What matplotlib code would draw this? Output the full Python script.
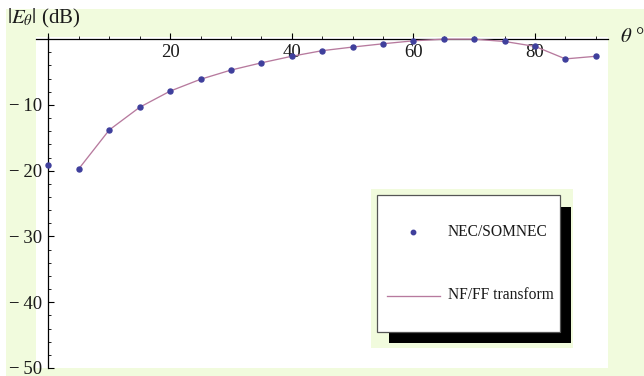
import matplotlib
matplotlib.use("Agg")
import matplotlib.pyplot as plt
from matplotlib.patches import Rectangle
from matplotlib.lines import Line2D
from matplotlib.ticker import MultipleLocator, FixedLocator

plt.rcParams['font.family'] = ['Liberation Serif', 'DejaVu Serif']
plt.rcParams['mathtext.fontset'] = 'stix'
plt.rcParams['axes.unicode_minus'] = True

# Elevation angle (degrees) and field magnitude (dB)
theta_nec = [0, 5, 10, 15, 20, 25, 30, 35, 40, 45, 50, 55, 60, 65, 70, 75, 80, 85, 90]
e_nec = [-19.2, -19.7, -13.8, -10.35, -7.9, -6.1, -4.7, -3.6, -2.6, -1.75,
         -1.2, -0.7, -0.25, 0.0, 0.0, -0.35, -1.1, -3.0, -2.6]

theta_nfff = [5, 10, 15, 20, 25, 30, 35, 40, 45, 50, 55, 60, 65, 70, 75, 80, 85, 90]
e_nfff = [-19.7, -13.8, -10.35, -7.9, -6.1, -4.7, -3.6, -2.6, -1.75,
          -1.2, -0.7, -0.25, 0.0, 0.0, -0.35, -1.1, -3.0, -2.6]

x_ticks = [0, 20, 40, 60, 80]
x_labels = ["", "20", "40", "60", "80"]
y_ticks = [-50, -40, -30, -20, -10]
y_labels = ["\u2212\u200950", "\u2212\u200940", "\u2212\u200930",
            "\u2212\u200920", "\u2212\u200910"]

W, H = 644, 376
GREEN = '#F1FBDD'
POINT_C = '#3F3F9C'
LINE_C = '#B77A9E'
TXT = '#1a1a1a'

fig = plt.figure(figsize=(W / 100, H / 100), dpi=100)
fig.patch.set_facecolor('white')

def px_rect(x0, y0, x1, y1, **kw):
    # rectangle given in pixel coordinates measured from the top-left corner
    r = Rectangle((x0 / W, 1 - y1 / H), (x1 - x0) / W, (y1 - y0) / H,
                  transform=fig.transFigure, **kw)
    fig.patches.append(r)
    return r

px_rect(6, 9, W, H, facecolor=GREEN, edgecolor='none', zorder=-5)

ax = fig.add_axes([36 / W, 1 - 368 / H, (608 - 36) / W, (368 - 37) / H])
ax.set_zorder(1)
ax.set_facecolor('white')
ax.set_xlim(-2.05, 92.0)
ax.set_ylim(-50, 0.33)

ax.plot(theta_nfff, e_nfff, color=LINE_C, lw=0.95, zorder=3, clip_on=False)
ax.plot(theta_nec, e_nec, ls='none', marker='o', ms=3.6, color=POINT_C,
        mec=POINT_C, zorder=4, clip_on=False)

for s in ('top', 'right'):
    ax.spines[s].set_visible(False)
ax.spines['left'].set_position(('data', 0))
ax.spines['bottom'].set_position(('data', 0))
for s in ('left', 'bottom'):
    ax.spines[s].set_linewidth(0.9)
    ax.spines[s].set_color('black')
    ax.spines[s].set_zorder(2)

ax.xaxis.set_major_locator(FixedLocator(x_ticks))
ax.set_xticklabels(x_labels)
ax.xaxis.set_minor_locator(MultipleLocator(5))
ax.yaxis.set_major_locator(FixedLocator(y_ticks))
ax.set_yticklabels(y_labels)
ax.yaxis.set_minor_locator(MultipleLocator(2))

ax.tick_params(axis='x', which='major', direction='in', length=4, width=0.8,
               pad=3.5, labelsize=13.5, labelcolor=TXT)
ax.tick_params(axis='x', which='minor', direction='in', length=2.5, width=0.6)
ax.tick_params(axis='y', which='major', direction='in', length=4, width=0.8,
               pad=4.5, labelsize=13.5, labelcolor=TXT)
ax.tick_params(axis='y', which='minor', direction='in', length=2.5, width=0.6)

fig.text(7 / W, 1 - 18 / H, r'$|E_\theta|$ (dB)', fontsize=15, color=TXT,
         va='center', ha='left')
fig.text(620 / W, 1 - 38 / H, r'$\theta$ °', fontsize=15, color=TXT,
         va='center', ha='left')

# legend: green backdrop, black drop shadow, white framed box
px_rect(371, 189, 573, 348, facecolor=GREEN, edgecolor='none', zorder=5)
px_rect(389, 207, 571, 343, facecolor='black', edgecolor='none', zorder=6)
px_rect(377, 195, 560, 332, facecolor='white', edgecolor='#555555',
        linewidth=0.9, zorder=7)
fig.lines.append(Line2D([413 / W], [1 - 232 / H], marker='o', ms=3.2,
                        color=POINT_C, ls='none', transform=fig.transFigure,
                        zorder=8))
fig.lines.append(Line2D([387 / W, 440 / W], [1 - 296 / H, 1 - 296 / H],
                        color=LINE_C, lw=0.95, transform=fig.transFigure,
                        zorder=8))
fig.text(448 / W, 1 - 232 / H, 'NEC/SOMNEC', fontsize=11.2, color=TXT,
         va='center', ha='left', zorder=9)
fig.text(448 / W, 1 - 295 / H, 'NF/FF transform', fontsize=11.2, color=TXT,
         va='center', ha='left', zorder=9)

fig.savefig('out.png', dpi=100, facecolor=fig.get_facecolor())
